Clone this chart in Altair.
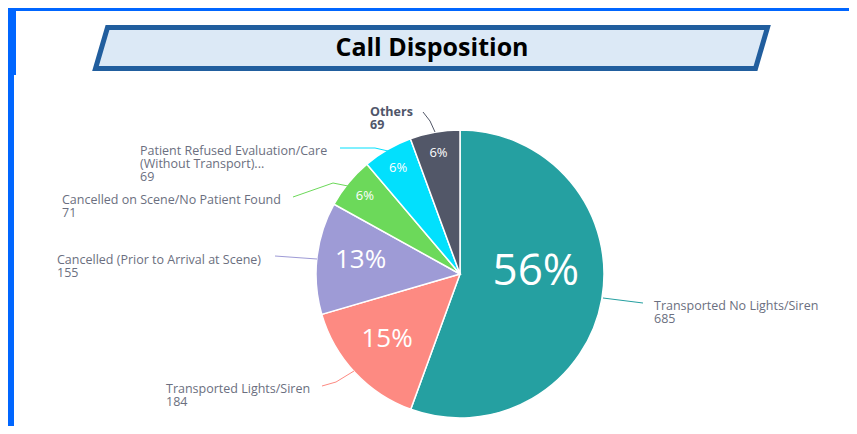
import altair as alt
import pandas as pd

# ---------------- data ----------------
categories = [
    "Transported No Lights/Siren",
    "Transported Lights/Siren",
    "Cancelled (Prior to Arrival at Scene)",
    "Cancelled on Scene/No Patient Found",
    "Patient Refused Evaluation/Care (Without Transport)",
    "Others",
]
values = [685, 184, 155, 71, 69, 69]
# label text as displayed next to each slice (name lines), value added below
display_names = [
    ["Transported No Lights/Siren"],
    ["Transported Lights/Siren"],
    ["Cancelled (Prior to Arrival at Scene)"],
    ["Cancelled on Scene/No Patient Found"],
    ["Patient Refused Evaluation/Care", "(Without Transport)..."],
    ["Others"],
]
title_text = "Call Disposition"

# ---------------- styles / layout ----------------
colors = ["#25A0A1", "#FD8A82", "#9E9BD6", "#6CD95A", "#02E0FD", "#525768"]
OFF = 8                      # page margin: reference px -> chart px
W, H = 841, 418
CX, CY = 460 - OFF, 274 - OFF
R = 144
label_anchor = [(654, 306), (166, 389), (57, 260), (62, 200), (140, 151), (370, 112)]
bold_label = [False, False, False, False, False, True]
line_step = 13
leaders = [
    [(603, 298), (643, 303)],
    [(354, 371), (336, 382), (322, 386)],
    [(275, 256), (317, 259)],
    [(293, 197), (333, 183), (348, 186)],
    [(340, 148), (375, 148), (388, 151)],
    [(423, 112), (430, 121), (435, 132)],
]

df = pd.DataFrame({"category": categories, "value": values, "idx": list(range(len(categories)))})
color_scale = alt.Scale(domain=categories, range=colors)

base = alt.Chart(df).encode(
    theta=alt.Theta("value:Q", stack=True),
    order=alt.Order("idx:Q"),
)

pie = base.mark_arc(outerRadius=R, stroke="white", strokeWidth=1.5).encode(
    x=alt.value(CX), y=alt.value(CY),
    color=alt.Color("category:N", scale=color_scale, legend=None),
)


def pct_layer(cond, size, radius, dy=0):
    return base.transform_joinaggregate(total="sum(value)").transform_calculate(
        lab=f"({cond}) ? format(datum.value / datum.total, '.0%') : ''"
    ).mark_text(fontSize=size, color="white", font="Open Sans", dy=dy,
                align="center", baseline="middle").encode(
        x=alt.value(CX), y=alt.value(CY), radius=alt.value(radius),
        detail="category:N", text="lab:N",
    )


pct_big = pct_layer("datum.value / datum.total > 0.3", 44, 77, -15)
pct_mid = pct_layer("datum.value / datum.total > 0.1 && datum.value / datum.total <= 0.3", 26, 100, -3)
pct_small = pct_layer("datum.value / datum.total <= 0.1", 13, 123, 0)

# leader lines
lead_rows = []
for cat, pts in zip(categories, leaders):
    for k, (px, py) in enumerate(pts):
        lead_rows.append({"category": cat, "seq": k, "px": px - OFF, "py": py - OFF})
lead_df = pd.DataFrame(lead_rows)
lead = alt.Chart(lead_df).mark_line(strokeWidth=1).encode(
    x=alt.X("px:Q", scale=None, axis=None),
    y=alt.Y("py:Q", scale=None, axis=None),
    color=alt.Color("category:N", scale=color_scale, legend=None),
    detail="category:N",
    order="seq:Q",
)

# outside labels
lab_rows = []
for names, v, (ax, ay), b in zip(display_names, values, label_anchor, bold_label):
    lines = names + [str(v)]
    for i, t in enumerate(lines):
        lab_rows.append({"text": t, "px": ax - OFF, "py": ay - OFF + i * line_step, "bold": b})
lab_df = pd.DataFrame(lab_rows)
lab_norm = alt.Chart(lab_df).transform_filter("!datum.bold").mark_text(
    align="left", baseline="middle", font="Open Sans", fontSize=12.5, color="#6B6F80"
).encode(x=alt.X("px:Q", scale=None, axis=None), y=alt.Y("py:Q", scale=None, axis=None), text="text:N")
lab_bold = alt.Chart(lab_df).transform_filter("datum.bold").mark_text(
    align="left", baseline="middle", font="Open Sans", fontSize=12.5, fontWeight="bold", color="#50566A"
).encode(x=alt.X("px:Q", scale=None, axis=None), y=alt.Y("py:Q", scale=None, axis=None), text="text:N")

one = pd.DataFrame({"a": [0]})
frame_left = alt.Chart(one).mark_rect(color="#0066FF").encode(
    x=alt.value(0), x2=alt.value(6), y=alt.value(0), y2=alt.value(H))
frame_left2 = alt.Chart(one).mark_rect(color="#0066FF").encode(
    x=alt.value(0), x2=alt.value(8), y=alt.value(0), y2=alt.value(75 - OFF))
frame_top = alt.Chart(one).mark_rect(color="#0066FF").encode(
    x=alt.value(0), x2=alt.value(W), y=alt.value(0), y2=alt.value(3))

half = 336
skew = 12 / half
hh = 20.5 / half
path = f"M {-1 + skew:.4f} {-hh:.4f} L 1 {-hh:.4f} L {1 - skew:.4f} {hh:.4f} L -1 {hh:.4f} Z"
title_box = alt.Chart(one).mark_point(
    shape=path, size=(2 * half) ** 2, fill="#DCE9F6", stroke="#215E9E",
    strokeWidth=5, opacity=1, fillOpacity=1, strokeOpacity=1, filled=False,
).encode(x=alt.value(431.5 - OFF), y=alt.value(48 - OFF))
title = alt.Chart(one).mark_text(
    text=title_text, font="Open Sans", fontSize=25, fontWeight="bold",
    color="#000000", align="center", baseline="middle",
).encode(x=alt.value(432 - OFF), y=alt.value(48 - OFF))

chart = alt.layer(
    frame_left, frame_left2, frame_top, title_box, title,
    pie, pct_big, pct_mid, pct_small, lead, lab_norm, lab_bold,
).properties(
    width=W, height=H, padding=0, background="white",
    autosize=alt.AutoSizeParams(type="fit", contains="padding"),
).configure_view(stroke=None)

chart.save("out.html", embed_options={"renderer": "svg", "actions": False})
